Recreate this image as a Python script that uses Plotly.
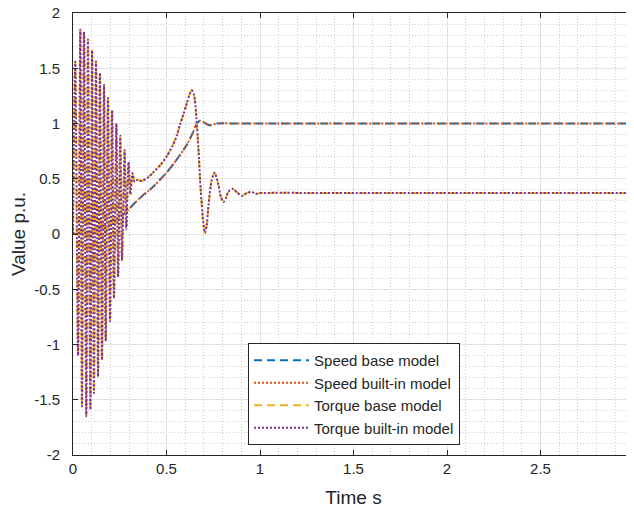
import plotly.graph_objects as go

# ---------------- data ----------------
speed_t = [0.000, 0.05, 0.10, 0.15, 0.20, 0.25, 0.296, 0.33, 0.367, 0.40, 0.43, 0.47,
           0.50, 0.54, 0.572, 0.608, 0.643, 0.661, 0.679, 0.692, 0.706, 0.72, 0.733,
           0.75, 0.768, 0.80, 0.85, 1.0, 3.0]
speed_base = [0.00, 0.01, 0.03, 0.06, 0.10, 0.15, 0.22, 0.28, 0.34, 0.385, 0.43, 0.50,
              0.555, 0.64, 0.715, 0.805, 0.925, 0.995, 1.025, 1.02, 1.005, 0.99, 0.985,
              0.99, 1.0, 1.003, 1.0, 1.0, 1.0]
speed_builtin = list(speed_base)  # curves overlap in the picture

torque_t = [0.000, 0.012, 0.027, 0.039, 0.048, 0.059, 0.071, 0.080, 0.093, 0.102, 0.112,
            0.123, 0.134, 0.144, 0.155, 0.166, 0.175, 0.187, 0.198, 0.209, 0.219, 0.232,
            0.241, 0.253, 0.262, 0.276, 0.285, 0.297, 0.307, 0.318, 0.33, 0.345, 0.367,
            0.40, 0.43, 0.47, 0.50, 0.53, 0.555, 0.572, 0.59, 0.608, 0.625, 0.635, 0.645,
            0.652, 0.66, 0.67, 0.683, 0.697, 0.706, 0.715, 0.724, 0.742, 0.757, 0.777,
            0.79, 0.804, 0.817, 0.83, 0.852, 0.875, 0.902, 0.929, 0.955, 0.98, 1.0, 1.5, 3.0]
torque_base = [0.00, 1.56, -1.10, 1.85, -1.56, 1.83, -1.65, 1.76, -1.59, 1.66, -1.44,
               1.56, -1.29, 1.46, -1.14, 1.35, -0.97, 1.23, -0.79, 1.12, -0.58, 1.00,
               -0.39, 0.89, -0.24, 0.76, 0.04, 0.65, 0.36, 0.55, 0.47, 0.49, 0.48,
               0.51, 0.56, 0.63, 0.70, 0.79, 0.89, 0.99, 1.08, 1.18, 1.27, 1.30, 1.27,
               1.21, 1.05, 0.79, 0.40, 0.10, 0.01, 0.08, 0.25, 0.49, 0.555, 0.45,
               0.34, 0.29, 0.32, 0.38, 0.41, 0.38, 0.345, 0.37, 0.38, 0.365, 0.37, 0.37, 0.37]
torque_builtin = list(torque_base)  # curves overlap in the picture

series_names = ["Speed base model", "Speed built-in model",
                "Torque base model", "Torque built-in model"]

x_tick_vals = [0, 0.5, 1, 1.5, 2, 2.5, 3]
x_tick_text = ["0", "0.5", "1", "1.5", "2", "2.5", "3"]
y_tick_vals = [-2, -1.5, -1, -0.5, 0, 0.5, 1, 1.5, 2]
y_tick_text = ["-2", "-1.5", "-1", "-0.5", "0", "0.5", "1", "1.5", "2"]

# ---------------- styling ----------------
FONT = "Liberation Sans, Arial, Helvetica, sans-serif"
INK = "#262626"
colors = ["#0072BD", "#D95319", "#EDB120", "#7E2F8E"]
dashes = ["8px,5px", "2px,2px", "8px,5px", "2px,2px"]

fig = go.Figure()
data_sets = [(speed_t, speed_base), (speed_t, speed_builtin),
             (torque_t, torque_base), (torque_t, torque_builtin)]
for i, ((tx, ty), name) in enumerate(zip(data_sets, series_names)):
    fig.add_trace(go.Scatter(
        x=tx, y=ty, mode="lines", name=name, legendgroup=f"g{i}",
        line=dict(color=colors[i], width=2, dash=dashes[i], shape="spline", smoothing=0.8),
    ))

axis_common = dict(
    automargin=False,
    showline=True, linecolor=INK, linewidth=1, mirror="ticks",
    ticks="inside", ticklen=5, tickcolor=INK, tickwidth=1,
    showgrid=True, gridcolor="#e3e3e3", gridwidth=1,
    zeroline=False,
    tickfont=dict(family=FONT, size=15, color=INK),
    tickmode="array",
    ticklabeloverflow="allow",
)

# the page body adds an 8px offset, so the figure is sized/margined to compensate
fig.update_layout(
    width=626, height=500,
    margin=dict(l=65, r=0, t=5, b=53, autoexpand=False),
    paper_bgcolor="white", plot_bgcolor="white",
    font=dict(family=FONT, color=INK),
    xaxis=dict(axis_common, range=[0, 3], tickvals=x_tick_vals, ticktext=x_tick_text,
               minor=dict(dtick=0.1, showgrid=True, gridcolor="#cfcfcf",
                          griddash="1px,2px", gridwidth=1, ticks=""),
               title=dict(text="Time s", font=dict(family=FONT, size=19, color=INK),
                          standoff=14)),
    yaxis=dict(axis_common, range=[-2, 2], tickvals=y_tick_vals, ticktext=y_tick_text,
               ticklabelstandoff=9,
               minor=dict(dtick=0.1, showgrid=True, gridcolor="#cfcfcf",
                          griddash="1px,2px", gridwidth=1, ticks=""),
               title=dict(text="Value p.u.", font=dict(family=FONT, size=19, color=INK),
                          standoff=8)),
    showlegend=True,
    legend=dict(x=0.312, y=0.2534, xanchor="left", yanchor="top",
                bgcolor="white", bordercolor=INK, borderwidth=1,
                font=dict(family=FONT, size=15, color=INK),
                itemwidth=55, tracegroupgap=5, traceorder="normal"),
)

fig.write_html("out.html")
